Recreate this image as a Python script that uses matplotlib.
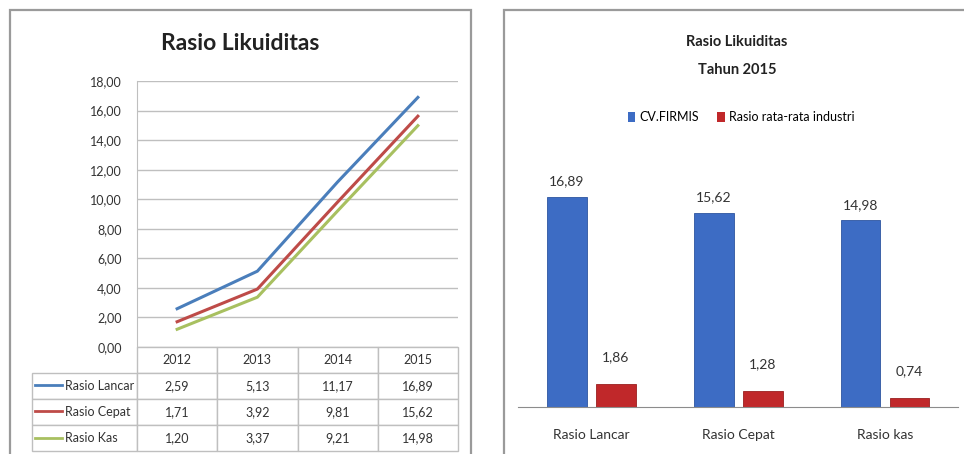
import matplotlib

matplotlib.use("Agg")
import matplotlib.pyplot as plt
import numpy as np
from matplotlib import font_manager
from matplotlib.lines import Line2D
from matplotlib.patches import Patch, Rectangle

# Data
years = ["2012", "2013", "2014", "2015"]
ratio_names = ["Rasio Lancar", "Rasio Cepat", "Rasio Kas"]
rasio_lancar = [2.59, 5.13, 11.17, 16.89]
rasio_cepat = [1.71, 3.92, 9.81, 15.62]
rasio_kas = [1.20, 3.37, 9.21, 14.98]

bar_categories = ["Rasio Lancar", "Rasio Cepat", "Rasio kas"]
cv_firmis = [16.89, 15.62, 14.98]
industri = [1.86, 1.28, 0.74]

# Font: pick a narrow family if present
available = {f.name for f in font_manager.fontManager.ttflist}
family = [f for f in ["Liberation Sans Narrow", "Lato", "DejaVu Sans"] if f in available]
plt.rcParams["font.family"] = family


def fmt(v):
    return f"{v:.2f}".replace(".", ",")


W, H = 964, 454
fig = plt.figure(figsize=(W / 100, H / 100), dpi=100)


def fx(px):
    return px / W


def fy(py):
    return 1 - py / H


# Panel borders
fig.patches.append(Rectangle((fx(10), -0.05), fx(461), fy(10) + 0.05, transform=fig.transFigure,
                             fill=False, edgecolor="#9a9a9a", linewidth=1.6))
fig.patches.append(Rectangle((fx(504), -0.05), fx(520), fy(10) + 0.05, transform=fig.transFigure,
                             fill=False, edgecolor="#9a9a9a", linewidth=1.6))

# ---------------- Left: line chart with data table ----------------
ax = fig.add_axes([fx(137), fy(347), fx(458 - 137), (347 - 81) / H])
line_colors = ["#4a7ebb", "#be4b48", "#a8c060"]
series = [rasio_lancar, rasio_cepat, rasio_kas]
x = np.arange(len(years))
for vals, c in zip(series, line_colors):
    ax.plot(x, vals, color=c, linewidth=2.2, zorder=3)
ax.set_xlim(-0.5, len(years) - 0.5)
ax.set_ylim(0, 18)
ax.set_yticks(np.arange(0, 19, 2))
ax.set_yticklabels([fmt(v) for v in np.arange(0, 19, 2)], fontsize=9, color="#333333")
ax.set_xticks([])
ax.tick_params(axis="y", length=0, pad=11)
ax.grid(axis="y", color="#bfbfbf", linewidth=1)
for s in ["top", "right", "bottom"]:
    ax.spines[s].set_visible(False)
ax.spines["left"].set_color("#bfbfbf")
fig.text(fx(240), fy(44), "Rasio Likuiditas", ha="center", va="center",
         fontsize=16.5, fontweight="bold", color="#222222")

# data table under the plot
cell_text = [[name] + [fmt(v) for v in vals] for name, vals in zip(ratio_names, series)]
label_w, col_w = 105, 80.25
axw = 458 - 137
tbl = ax.table(cellText=cell_text, colLabels=[""] + years,
               colWidths=[label_w] + [col_w] * len(years),
               cellLoc="center",
               bbox=[(32 - 137) / axw, -(451 - 347) / (347 - 81), (458 - 32) / axw, (451 - 347) / (347 - 81)])
tbl.auto_set_font_size(False)
for (r, c), cell in tbl.get_celld().items():
    cell.set_edgecolor("#bfbfbf")
    cell.set_linewidth(1)
    cell.get_text().set_fontsize(9)
    cell.get_text().set_color("#333333")
    if r == 0 and c == 0:
        cell.visible_edges = ""
    if r > 0 and c == 0:
        cell.get_text().set_ha("left")
        cell._loc = "left"
        cell.PAD = 0.31
# legend keys in the row label cells
for i, c in enumerate(line_colors):
    yy = -(372 - 347 + 13 + i * 26.3) / (347 - 81)
    ax.add_line(Line2D([(35 - 137) / axw, (62 - 137) / axw], [yy, yy], color=c, linewidth=2,
                       transform=ax.transAxes, clip_on=False))

# ---------------- Right: bar chart ----------------
bx = fig.add_axes([fx(518), fy(407), fx(958.5 - 518), (407 - 158) / H])
xb = np.arange(len(bar_categories))
off, bw = 0.167, 0.27
b1 = bx.bar(xb - off, cv_firmis, width=bw, color="#3d6cc4", edgecolor="#2d55a0", linewidth=0.6)
b2 = bx.bar(xb + off, industri, width=bw, color="#c0282a", edgecolor="#9a2020", linewidth=0.6)
for bars, vals, dy in [(b1, cv_firmis, 7), (b2, industri, 15)]:
    for rect, v in zip(bars, vals):
        bx.annotate(fmt(v), (rect.get_x() + rect.get_width() / 2, v), xytext=(0, dy),
                    textcoords="offset points", ha="center", va="bottom", fontsize=10,
                    color="#333333")
bx.set_xlim(-0.5, len(bar_categories) - 0.5)
bx.set_ylim(0, 20)
bx.set_yticks([])
bx.set_xticks(xb)
bx.set_xticklabels(bar_categories, fontsize=10, color="#333333")
bx.tick_params(axis="x", length=0, pad=16)
for s in ["top", "right", "left"]:
    bx.spines[s].set_visible(False)
bx.spines["bottom"].set_color("#8c8c8c")
fig.text(fx(737), fy(42), "Rasio Likuiditas", ha="center", va="center",
         fontsize=10.5, fontweight="bold", color="#222222")
fig.text(fx(737), fy(70), "Tahun 2015", ha="center", va="center",
         fontsize=10.5, fontweight="bold", color="#222222")
handles = [Patch(facecolor="#3d6cc4"), Patch(facecolor="#c0282a")]
fig.legend(handles, ["CV.FIRMIS", "Rasio rata-rata industri"], loc="center",
           bbox_to_anchor=(fx(741), fy(117)), ncol=2, frameon=False, fontsize=9,
           handlelength=0.6, handleheight=0.9, handletextpad=0.3, columnspacing=1.5)

fig.savefig("out.png", dpi=100)
